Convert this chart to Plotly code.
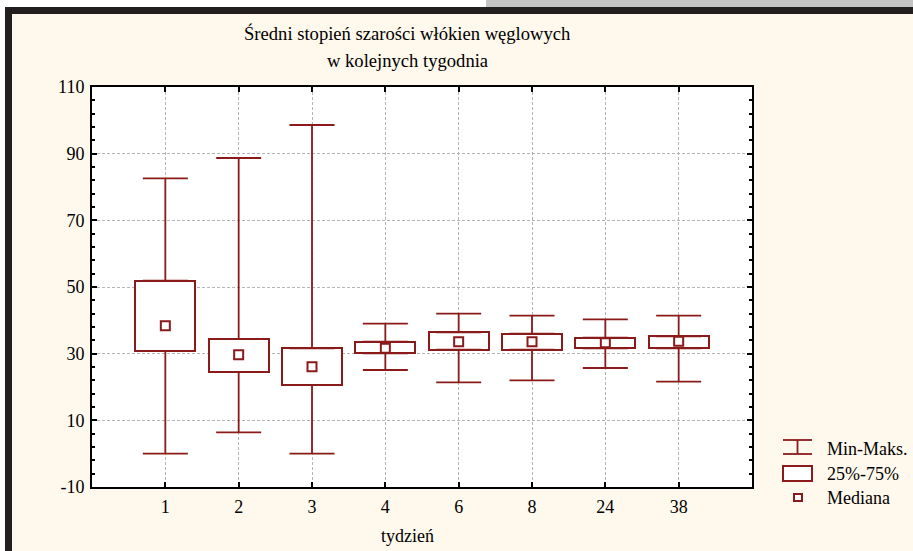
import plotly.graph_objects as go

# ---- data ----
weeks = ["1", "2", "3", "4", "6", "8", "24", "38"]
minimum = [0.0, 6.4, 0.0, 25.1, 21.4, 22.0, 25.7, 21.6]
q1 = [30.8, 24.5, 20.6, 30.1, 31.2, 31.2, 31.6, 31.6]
median = [38.4, 29.7, 26.1, 31.6, 33.6, 33.6, 33.3, 33.7]
q3 = [51.9, 34.4, 31.6, 33.6, 36.4, 36.0, 34.8, 35.2]
maximum = [82.6, 88.7, 98.6, 39.0, 42.0, 41.4, 40.3, 41.4]

title_lines = ["Średni stopień szarości włókien węglowych", "w kolejnych tygodnia"]
x_title = "tydzień"
legend_labels = ["Min-Maks.", "25%-75%", "Mediana"]
y_ticks = [-10, 10, 30, 50, 70, 90, 110]
y_tick_text = ["-10", "10", "30", "50", "70", "90", "110"]

# ---- style ----
RED = "#8B1A1A"
CREAM = "#FFF8EC"
DARK = "#231F20"
FONT = "Liberation Serif"
FS = 18
FW, FH = 913, 551
L, R, T, B = 92, 161, 87, 64
PW, PH = FW - L - R, FH - T - B

def px_x(px):
    return (px - L) / PW

def px_y(py):
    return (FH - B - py) / PH

pos = list(range(1, len(weeks) + 1))

fig = go.Figure()

# upper whiskers (from q3 to max)
fig.add_trace(go.Scatter(
    x=pos, y=q3, mode="markers", marker=dict(size=1, opacity=0),
    error_y=dict(type="data", symmetric=False,
                 array=[mx - b for mx, b in zip(maximum, q3)],
                 arrayminus=[0] * len(pos),
                 color=RED, thickness=1.8, width=22.5),
    showlegend=False, hoverinfo="skip"))
# lower whiskers (from q1 to min)
fig.add_trace(go.Scatter(
    x=pos, y=q1, mode="markers", marker=dict(size=1, opacity=0),
    error_y=dict(type="data", symmetric=False,
                 array=[0] * len(pos),
                 arrayminus=[a - mn for a, mn in zip(q1, minimum)],
                 color=RED, thickness=1.8, width=22.5),
    showlegend=False, hoverinfo="skip"))

# boxes 25%-75%
fig.add_trace(go.Bar(
    x=pos, y=[b - a for a, b in zip(q1, q3)], base=q1, width=0.82,
    marker=dict(color="white", line=dict(color=RED, width=2)),
    showlegend=False, hoverinfo="skip"))

# medians
fig.add_trace(go.Scatter(
    x=pos, y=median, mode="markers",
    marker=dict(symbol="square", size=9, color="white",
                line=dict(color=RED, width=2)),
    showlegend=False, hoverinfo="skip"))

# ---- frame decorations ----
shapes = []
def rect_px(x0, y0, x1, y1, color):
    shapes.append(dict(type="rect", xref="paper", yref="paper",
                       x0=px_x(x0), x1=px_x(x1), y0=px_y(y1), y1=px_y(y0),
                       fillcolor=color, line=dict(width=0), layer="above"))

rect_px(0, 0, 486, 7, "white")
rect_px(486, 0, FW, 7, "#C4C4C4")
rect_px(0, 7, FW, 14, DARK)
rect_px(0, 7, 5, FH, "white")
rect_px(5, 7, 12, FH, DARK)

# ---- custom legend ----
lx0, lx1 = 783, 812
shapes.append(dict(type="line", xref="paper", yref="paper",
                   x0=px_x(lx0), x1=px_x(lx1), y0=px_y(440), y1=px_y(440),
                   line=dict(color=RED, width=1.8)))
shapes.append(dict(type="line", xref="paper", yref="paper",
                   x0=px_x(lx0), x1=px_x(lx1), y0=px_y(454), y1=px_y(454),
                   line=dict(color=RED, width=1.8)))
shapes.append(dict(type="line", xref="paper", yref="paper",
                   x0=px_x((lx0 + lx1) / 2), x1=px_x((lx0 + lx1) / 2),
                   y0=px_y(440), y1=px_y(454),
                   line=dict(color=RED, width=1.8)))
shapes.append(dict(type="rect", xref="paper", yref="paper",
                   x0=px_x(lx0), x1=px_x(lx1), y0=px_y(481), y1=px_y(466),
                   fillcolor="white", line=dict(color=RED, width=2)))
shapes.append(dict(type="rect", xref="paper", yref="paper",
                   x0=px_x(794), x1=px_x(802), y0=px_y(501), y1=px_y(494),
                   fillcolor="white", line=dict(color=RED, width=2)))

annotations = []
for lbl, yy in zip(legend_labels, [449, 474, 498]):
    annotations.append(dict(text=lbl, xref="paper", yref="paper",
                            x=px_x(825), y=px_y(yy), xanchor="left",
                            yanchor="middle", showarrow=False,
                            font=dict(family=FONT, size=FS, color="black")))
for lbl, yy in zip(title_lines, [33, 60]):
    annotations.append(dict(text=lbl, xref="paper", yref="paper",
                            x=px_x(407), y=px_y(yy), xanchor="center",
                            yanchor="middle", showarrow=False,
                            font=dict(family=FONT, size=18.6, color="black")))
annotations.append(dict(text=x_title, xref="paper", yref="paper",
                        x=px_x(407), y=px_y(536), xanchor="center",
                        yanchor="middle", showarrow=False,
                        font=dict(family=FONT, size=FS, color="black")))

axis_common = dict(
    showline=True, linecolor="black", linewidth=2, mirror="ticks",
    ticks="inside", ticklen=5, tickcolor="black", tickwidth=1.5,
    showgrid=True, gridcolor="#B4B4B4", gridwidth=1, griddash="3px,2px",
    zeroline=False,
    tickfont=dict(family=FONT, size=FS, color="black"),
)

fig.update_layout(
    width=FW, height=FH,
    margin=dict(l=L, r=R, t=T, b=B, pad=0),
    paper_bgcolor=CREAM, plot_bgcolor="white",
    showlegend=False,
    shapes=shapes, annotations=annotations,
    xaxis=dict(range=[0, len(weeks) + 1], tickmode="array",
               tickvals=pos, ticktext=weeks, ticklabelstandoff=2,
               **axis_common),
    yaxis=dict(range=[-10, 110], tickmode="array", tickvals=y_ticks,
               ticktext=y_tick_text, ticklabelstandoff=2,
               minor=dict(dtick=4, tick0=-10, ticks="inside", ticklen=3,
                          tickcolor="black", showgrid=False),
               **axis_common),
    bargap=0,
)

fig.write_html("out.html",
               config={"displayModeBar": False},
               post_script="document.body.style.margin='0';document.body.style.overflow='hidden';")
